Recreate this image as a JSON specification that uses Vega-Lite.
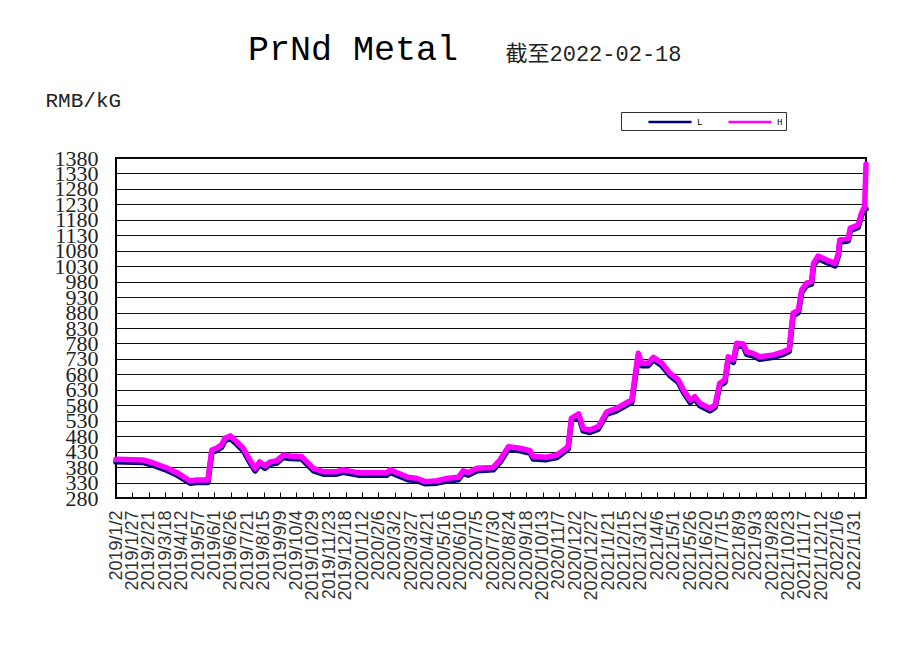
{
  "$schema": "https://vega.github.io/schema/vega-lite/v6.json",
  "width": 750,
  "height": 340,
  "autosize": {"type": "none"},
  "padding": {"left": 116, "top": 158, "right": 35, "bottom": 148},
  "background": "white",
  "title": {
    "text": "PrNd Metal",
    "font": "Liberation Mono",
    "fontSize": 35,
    "fontWeight": "normal",
    "color": "black",
    "anchor": "start",
    "frame": "group",
    "dx": 132,
    "offset": -25
  },
  "data": {
    "values": [
      {"d": "2019/01/02", "H": 405, "L": 397},
      {"d": "2019/02/12", "H": 403, "L": 395},
      {"d": "2019/02/27", "H": 394, "L": 386},
      {"d": "2019/03/21", "H": 377, "L": 369},
      {"d": "2019/04/05", "H": 362, "L": 354},
      {"d": "2019/04/25", "H": 335, "L": 328},
      {"d": "2019/05/05", "H": 338, "L": 330},
      {"d": "2019/05/22", "H": 338, "L": 330},
      {"d": "2019/05/28", "H": 435, "L": 427},
      {"d": "2019/06/04", "H": 441, "L": 433},
      {"d": "2019/06/12", "H": 452, "L": 444},
      {"d": "2019/06/17", "H": 473, "L": 465},
      {"d": "2019/06/25", "H": 481, "L": 473},
      {"d": "2019/07/05", "H": 462, "L": 454},
      {"d": "2019/07/15", "H": 441, "L": 433},
      {"d": "2019/07/25", "H": 403, "L": 395},
      {"d": "2019/08/02", "H": 376, "L": 368},
      {"d": "2019/08/09", "H": 397, "L": 389},
      {"d": "2019/08/17", "H": 384, "L": 376},
      {"d": "2019/08/25", "H": 397, "L": 389},
      {"d": "2019/09/04", "H": 401, "L": 393},
      {"d": "2019/09/14", "H": 419, "L": 411},
      {"d": "2019/09/24", "H": 416, "L": 408},
      {"d": "2019/10/12", "H": 414, "L": 406},
      {"d": "2019/10/30", "H": 376, "L": 368},
      {"d": "2019/11/14", "H": 365, "L": 357},
      {"d": "2019/12/04", "H": 365, "L": 357},
      {"d": "2019/12/14", "H": 371, "L": 363},
      {"d": "2020/01/06", "H": 362, "L": 354},
      {"d": "2020/02/19", "H": 362, "L": 354},
      {"d": "2020/02/24", "H": 371, "L": 363},
      {"d": "2020/03/22", "H": 347, "L": 339},
      {"d": "2020/04/04", "H": 344, "L": 336},
      {"d": "2020/04/17", "H": 333, "L": 326},
      {"d": "2020/05/05", "H": 336, "L": 328},
      {"d": "2020/05/22", "H": 344, "L": 336},
      {"d": "2020/06/07", "H": 347, "L": 339},
      {"d": "2020/06/14", "H": 368, "L": 360},
      {"d": "2020/06/22", "H": 362, "L": 354},
      {"d": "2020/07/05", "H": 376, "L": 368},
      {"d": "2020/07/30", "H": 379, "L": 371},
      {"d": "2020/08/09", "H": 403, "L": 395},
      {"d": "2020/08/22", "H": 446, "L": 438},
      {"d": "2020/09/09", "H": 441, "L": 433},
      {"d": "2020/09/24", "H": 433, "L": 425},
      {"d": "2020/09/29", "H": 414, "L": 406},
      {"d": "2020/10/19", "H": 412, "L": 404},
      {"d": "2020/11/04", "H": 419, "L": 411},
      {"d": "2020/11/14", "H": 435, "L": 427},
      {"d": "2020/11/21", "H": 446, "L": 438},
      {"d": "2020/11/26", "H": 538, "L": 530},
      {"d": "2020/12/07", "H": 552, "L": 544},
      {"d": "2020/12/14", "H": 505, "L": 497},
      {"d": "2020/12/24", "H": 500, "L": 492},
      {"d": "2021/01/06", "H": 511, "L": 503},
      {"d": "2021/01/19", "H": 559, "L": 551},
      {"d": "2021/02/03", "H": 570, "L": 562},
      {"d": "2021/02/21", "H": 592, "L": 584},
      {"d": "2021/02/26", "H": 596, "L": 588},
      {"d": "2021/03/03", "H": 673, "L": 665},
      {"d": "2021/03/08", "H": 748, "L": 740},
      {"d": "2021/03/13", "H": 716, "L": 708},
      {"d": "2021/03/23", "H": 716, "L": 708},
      {"d": "2021/03/31", "H": 735, "L": 727},
      {"d": "2021/04/13", "H": 716, "L": 708},
      {"d": "2021/04/25", "H": 684, "L": 676},
      {"d": "2021/05/08", "H": 662, "L": 654},
      {"d": "2021/05/16", "H": 629, "L": 621},
      {"d": "2021/05/26", "H": 597, "L": 589},
      {"d": "2021/06/02", "H": 608, "L": 600},
      {"d": "2021/06/10", "H": 586, "L": 578},
      {"d": "2021/06/25", "H": 570, "L": 562},
      {"d": "2021/07/03", "H": 581, "L": 573},
      {"d": "2021/07/10", "H": 651, "L": 643},
      {"d": "2021/07/18", "H": 662, "L": 654},
      {"d": "2021/07/23", "H": 737, "L": 729},
      {"d": "2021/07/31", "H": 727, "L": 719},
      {"d": "2021/08/05", "H": 781, "L": 773},
      {"d": "2021/08/15", "H": 778, "L": 770},
      {"d": "2021/08/20", "H": 753, "L": 745},
      {"d": "2021/08/30", "H": 748, "L": 740},
      {"d": "2021/09/09", "H": 737, "L": 729},
      {"d": "2021/09/30", "H": 743, "L": 735},
      {"d": "2021/10/15", "H": 753, "L": 745},
      {"d": "2021/10/24", "H": 762, "L": 754},
      {"d": "2021/10/27", "H": 824, "L": 816},
      {"d": "2021/10/30", "H": 878, "L": 870},
      {"d": "2021/11/07", "H": 888, "L": 880},
      {"d": "2021/11/12", "H": 953, "L": 945},
      {"d": "2021/11/19", "H": 975, "L": 967},
      {"d": "2021/11/27", "H": 980, "L": 972},
      {"d": "2021/11/30", "H": 1039, "L": 1031},
      {"d": "2021/12/07", "H": 1063, "L": 1055},
      {"d": "2021/12/20", "H": 1050, "L": 1042},
      {"d": "2022/01/02", "H": 1039, "L": 1031},
      {"d": "2022/01/07", "H": 1072, "L": 1064},
      {"d": "2022/01/09", "H": 1115, "L": 1107},
      {"d": "2022/01/22", "H": 1120, "L": 1112},
      {"d": "2022/01/25", "H": 1153, "L": 1145},
      {"d": "2022/02/06", "H": 1163, "L": 1155},
      {"d": "2022/02/11", "H": 1201, "L": 1193},
      {"d": "2022/02/16", "H": 1223, "L": 1215},
      {"d": "2022/02/18", "H": 1360, "L": 1215}
    ]
  },
  "encoding": {
    "x": {
      "field": "d",
      "type": "temporal",
      "scale": {
        "domain": [{"year": 2019, "month": 1, "date": 2}, {"year": 2022, "month": 2, "date": 18}],
        "nice": false
      },
      "axis": {
        "values": [
          {"year": 2019, "month": 1, "date": 2}, {"year": 2019, "month": 1, "date": 27},
          {"year": 2019, "month": 2, "date": 21}, {"year": 2019, "month": 3, "date": 18},
          {"year": 2019, "month": 4, "date": 12}, {"year": 2019, "month": 5, "date": 7},
          {"year": 2019, "month": 6, "date": 1}, {"year": 2019, "month": 6, "date": 26},
          {"year": 2019, "month": 7, "date": 21}, {"year": 2019, "month": 8, "date": 15},
          {"year": 2019, "month": 9, "date": 9}, {"year": 2019, "month": 10, "date": 4},
          {"year": 2019, "month": 10, "date": 29}, {"year": 2019, "month": 11, "date": 23},
          {"year": 2019, "month": 12, "date": 18}, {"year": 2020, "month": 1, "date": 12},
          {"year": 2020, "month": 2, "date": 6}, {"year": 2020, "month": 3, "date": 2},
          {"year": 2020, "month": 3, "date": 27}, {"year": 2020, "month": 4, "date": 21},
          {"year": 2020, "month": 5, "date": 16}, {"year": 2020, "month": 6, "date": 10},
          {"year": 2020, "month": 7, "date": 5}, {"year": 2020, "month": 7, "date": 30},
          {"year": 2020, "month": 8, "date": 24}, {"year": 2020, "month": 9, "date": 18},
          {"year": 2020, "month": 10, "date": 13}, {"year": 2020, "month": 11, "date": 7},
          {"year": 2020, "month": 12, "date": 2}, {"year": 2020, "month": 12, "date": 27},
          {"year": 2021, "month": 1, "date": 21}, {"year": 2021, "month": 2, "date": 15},
          {"year": 2021, "month": 3, "date": 12}, {"year": 2021, "month": 4, "date": 6},
          {"year": 2021, "month": 5, "date": 1}, {"year": 2021, "month": 5, "date": 26},
          {"year": 2021, "month": 6, "date": 20}, {"year": 2021, "month": 7, "date": 15},
          {"year": 2021, "month": 8, "date": 9}, {"year": 2021, "month": 9, "date": 3},
          {"year": 2021, "month": 9, "date": 28}, {"year": 2021, "month": 10, "date": 23},
          {"year": 2021, "month": 11, "date": 17}, {"year": 2021, "month": 12, "date": 12},
          {"year": 2022, "month": 1, "date": 6}, {"year": 2022, "month": 1, "date": 31}
        ],
        "format": "%Y/%-m/%-d",
        "labelAngle": 270,
        "labelFont": "Liberation Sans",
        "labelFontSize": 18,
        "labelColor": "#333",
        "labelOverlap": false,
        "labelPadding": 18,
        "tickSize": -6,
        "tickColor": "black",
        "domain": false,
        "grid": false,
        "title": "截至2022-02-18",
        "titleX": 389,
        "titleY": -438,
        "titleAlign": "left",
        "titleBaseline": "alphabetic",
        "titleFont": "Liberation Mono, Noto Sans CJK SC",
        "titleFontSize": 22,
        "titleFontWeight": "normal",
        "titleColor": "#222"
      }
    },
    "y": {
      "type": "quantitative",
      "scale": {"domain": [280, 1380], "nice": false, "zero": false},
      "axis": {
        "values": [280, 330, 380, 430, 480, 530, 580, 630, 680, 730, 780, 830, 880, 930, 980, 1030, 1080, 1130, 1180, 1230, 1280, 1330, 1380],
        "format": "d",
        "labelOverlap": false,
        "labelFont": "Liberation Serif",
        "labelFontSize": 22,
        "labelColor": "#222",
        "ticks": false,
        "domain": false,
        "grid": true,
        "gridColor": "#111",
        "gridWidth": 1,
        "labelPadding": 18,
        "title": "RMB/kG",
        "titleAngle": 0,
        "titleX": -71,
        "titleY": -52,
        "titleAlign": "left",
        "titleBaseline": "alphabetic",
        "titleFont": "Liberation Mono",
        "titleFontSize": 21,
        "titleFontWeight": "normal",
        "titleColor": "#222"
      }
    }
  },
  "layer": [
    {
      "mark": {"type": "line", "strokeWidth": 5.5, "strokeJoin": "round", "strokeCap": "round"},
      "encoding": {
        "y": {"field": "L"},
        "color": {
          "datum": "L",
          "scale": {"domain": ["L", "H"], "range": ["#000080", "#ff00ff"]},
          "legend": {
            "orient": "none",
            "legendX": 505,
            "legendY": -46,
            "direction": "horizontal",
            "title": null,
            "symbolType": "M-4,0H4",
            "symbolSize": 116,
            "symbolStrokeWidth": 2.5,
            "symbolOffset": 39,
            "labelFont": "Liberation Mono",
            "labelFontSize": 9,
            "labelOffset": 20,
            "columnPadding": 1,
            "strokeColor": "#333",
            "fillColor": "white",
            "padding": 3
          }
        }
      }
    },
    {
      "mark": {"type": "line", "strokeWidth": 5.5, "strokeJoin": "round", "strokeCap": "round"},
      "encoding": {
        "y": {"field": "H"},
        "color": {"datum": "H"}
      }
    }
  ],
  "config": {
    "view": {"stroke": "black", "strokeWidth": 2}
  }
}
